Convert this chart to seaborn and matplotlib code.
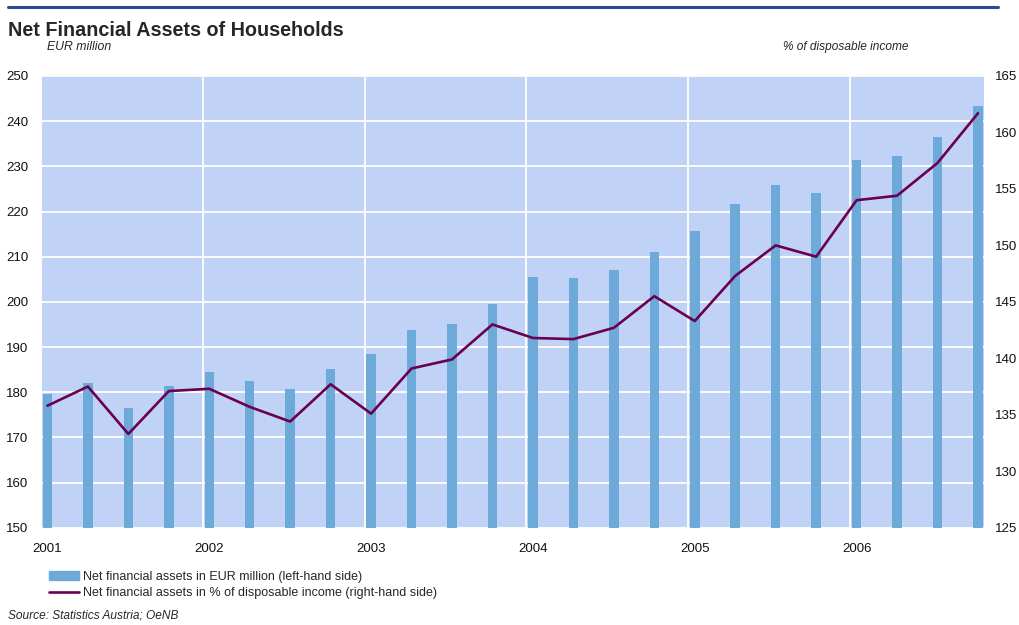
import numpy as np
import pandas as pd
import matplotlib.pyplot as plt
import seaborn as sns
from matplotlib.patches import Patch
from matplotlib.lines import Line2D

# ================= data =================
years = ['2001', '2002', '2003', '2004', '2005', '2006']
quarters = [f'{y}Q{q}' for y in years for q in range(1, 5)]

assets_eur = [179.6, 182.0, 176.5, 181.3, 184.4, 182.5, 180.7, 185.1,
              188.4, 193.7, 195.0, 199.5, 205.5, 205.2, 207.0, 211.0,
              215.7, 221.6, 225.8, 224.2, 231.5, 232.2, 236.6, 243.3]

assets_pct = [135.8, 137.5, 133.3, 137.1, 137.3, 135.7, 134.4, 137.7,
              135.1, 139.1, 139.9, 143.0, 141.8, 141.7, 142.7, 145.5,
              143.3, 147.3, 150.0, 149.0, 154.0, 154.4, 157.3, 161.7]

left_ticks = [150, 160, 170, 180, 190, 200, 210, 220, 230, 240, 250]
right_ticks = [125, 130, 135, 140, 145, 150, 155, 160, 165]

BAR_COLOR = '#6EAAD9'
LINE_COLOR = '#6B0050'
BG_COLOR = '#C0D3F7'

df = pd.DataFrame({'quarter': quarters, 'eur': assets_eur, 'pct': assets_pct})

sns.set_style('white')
plt.rcParams['font.family'] = ['Liberation Sans', 'DejaVu Sans']

fig = plt.figure(figsize=(10.19, 6.25), dpi=100)
ax = fig.add_axes([0.0402, 0.1557, 0.9255, 0.7227])
ax.set_facecolor(BG_COLOR)

sns.barplot(data=df, x='quarter', y='eur', color=BAR_COLOR, width=0.235,
            saturation=1, order=quarters, ax=ax, zorder=2, linewidth=0)
ax.set_ylim(150, 250)
ax.set_yticks(left_ticks)
ax.set_xlim(-0.16, len(quarters) - 1 + 0.15)

# year labels under first quarter, gridlines at year start
ax.set_xticks(range(0, len(quarters), 4))
ax.set_xticklabels(years)
ax.set_xticks([i - 0.16 for i in range(0, len(quarters), 4)], minor=True)
ax.grid(True, axis='y', which='major', color='white', lw=1.3, zorder=0)
ax.grid(True, axis='x', which='minor', color='white', lw=1.3, zorder=0)
ax.grid(False, axis='x', which='major')
ax.set_axisbelow(True)
ax.tick_params(axis='both', which='both', length=0, labelsize=9.5, colors='#111111')
ax.tick_params(axis='x', pad=11)
ax.tick_params(axis='y', pad=9)
ax.set_xlabel('')
ax.set_ylabel('')
for s in ax.spines.values():
    s.set_visible(False)

ax2 = ax.twinx()
sns.lineplot(x=np.arange(len(quarters)), y=df['pct'], color=LINE_COLOR, lw=1.9, ax=ax2)
ax2.set_ylim(125, 165)
ax2.set_yticks(right_ticks)
ax2.tick_params(axis='y', length=0, labelsize=9.5, pad=8, colors='#111111')
ax2.set_ylabel('')
ax2.grid(False)
for s in ax2.spines.values():
    s.set_visible(False)

# header
fig.add_artist(Line2D([8 / 1019, 998 / 1019], [1 - 7 / 625, 1 - 7 / 625],
                      color='#2A4A9A', lw=2.2))
fig.text(8 / 1019, 1 - 30 / 625, 'Net Financial Assets of Households',
         fontsize=14.2, fontweight='bold', va='center', ha='left')
fig.text(47 / 1019, 1 - 47 / 625, 'EUR million', fontsize=8.8, style='italic',
         va='center', ha='left')
fig.text(783 / 1019, 1 - 47 / 625, '% of disposable income', fontsize=8.6,
         style='italic', va='center', ha='left')

handles = [Patch(color=BAR_COLOR),
           Line2D([0], [0], color=LINE_COLOR, lw=1.9)]
labels = ['Net financial assets in EUR million (left-hand side)',
          'Net financial assets in % of disposable income (right-hand side)']
fig.legend(handles, labels, loc='upper left', bbox_to_anchor=(49 / 1019, 1 - 571 / 625),
           frameon=False, fontsize=9, handlelength=2.4, handletextpad=0.3,
           labelspacing=0.35, borderpad=0, borderaxespad=0)

fig.text(8 / 1019, 1 - 615 / 625, 'Source: Statistics Austria; OeNB', fontsize=8.6,
         style='italic', va='center', ha='left')

fig.savefig('out.png', dpi=100)
